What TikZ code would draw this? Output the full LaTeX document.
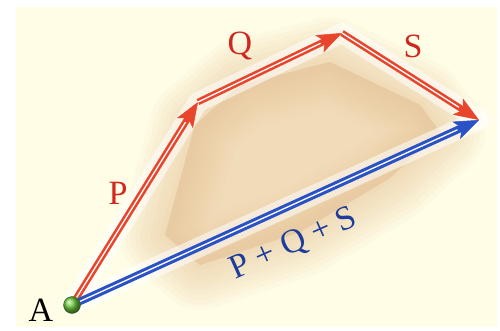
\documentclass[tikz,border=0pt]{standalone}
\usepackage{fontspec}
\newfontfamily\labelfont{Liberation Serif}
\usepackage{tikz}
\usetikzlibrary{arrows.meta,calc}
\definecolor{vecred}{HTML}{E8452C}
\definecolor{vecblue}{HTML}{2A52C4}
\definecolor{txtred}{HTML}{D0281E}
\definecolor{txtblue}{HTML}{1E3C9C}
\definecolor{paper}{HTML}{FFFDE6}
\definecolor{cloud}{HTML}{E6BE8C}
\definecolor{dotgreen}{HTML}{6CC83A}
\tikzset{
  vec/.style   ={line width=6.5pt, line cap=butt,
                 -{Stealth[length=25pt,width=19pt,inset=6pt,line width=0.5pt]}},
  rvec/.style  ={vec, draw=vecred},
  bvec/.style  ={vec, draw=vecblue, line width=7.5pt},
  stripe/.style={draw=white, line width=1.3pt, line cap=round},
  glow/.style  ={draw=white, line width=20pt, opacity=0.55, line cap=round, line join=round},
  vlabel/.style={font=\labelfont\fontsize{34}{38}\selectfont, inner sep=1pt},
  dot/.style   ={circle, minimum size=17pt, inner sep=0pt, ball color=dotgreen,
                 draw=dotgreen!50!black, thin},
}

\begin{document}
\begin{tikzpicture}[x=1pt, y=-1pt]
  \useasboundingbox (0,0) rectangle (500,330);
  \fill[paper] (16,7) rectangle (497,327);

  % soft background cloud
  \foreach \w in {90,80,...,10}
    \filldraw[cloud, opacity=0.065, line width=\w pt, line join=round]
      (165,235) -- (195,125) -- (240,85) -- (330,62) -- (420,105) -- (440,132)
      -- (390,178) -- (300,232) -- (200,265) -- cycle;

  \coordinate (A) at (72,305);
  \coordinate (B) at (198,102);
  \coordinate (C) at (342,33);
  \coordinate (D) at (479,120);

  \draw[glow] (A) -- (B) -- (C) -- (D);
  \draw[glow] (A) -- (D);

  \draw[rvec] (A) -- (B);
  \draw[rvec] (B) -- (C);
  \draw[rvec] (C) -- (D);
  \draw[bvec] (A) -- (D);
  \draw[stripe] (A) -- ($(B)!24pt!(A)$);
  \draw[stripe] (B) -- ($(C)!24pt!(B)$);
  \draw[stripe] (C) -- ($(D)!24pt!(C)$);
  \draw[stripe] (A) -- ($(D)!24pt!(A)$);

  \node[dot] (Adot) at (A) {};

  \node[vlabel] (lA) at (41,310) {A};
  \node[vlabel, text=txtred] (lP) at (118,193) {P};
  \node[vlabel, text=txtred] (lQ) at (240,46) {Q};
  \node[vlabel, text=txtred] (lS) at (413,46) {S};
  \node[vlabel, text=txtblue, rotate=24] (lsum) at (294,244) {P + Q + S};
\end{tikzpicture}
\end{document}
